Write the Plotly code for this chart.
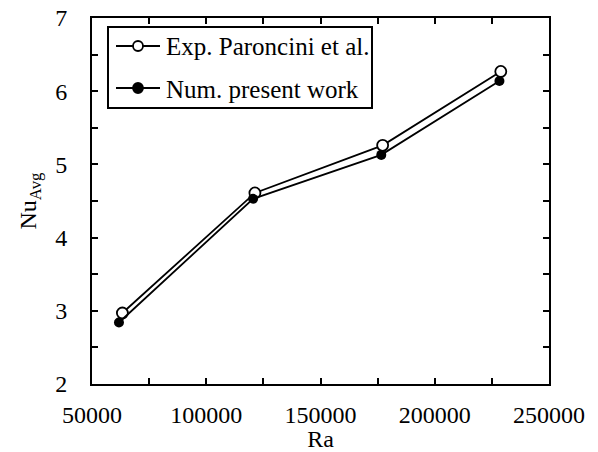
import plotly.graph_objects as go

ra_exp = [63300, 121300, 177200, 228900]
nu_exp = [2.97, 4.61, 5.26, 6.27]
ra_num = [61800, 120500, 176600, 228300]
nu_num = [2.84, 4.53, 5.13, 6.14]
names = ["Exp. Paroncini et al.", "Num. present work"]

FONT = "Liberation Serif"
fig = go.Figure()
fig.add_trace(go.Scatter(
    x=ra_exp, y=nu_exp, mode="lines+markers", name=names[0],
    line=dict(color="black", width=1.8),
    marker=dict(symbol="circle", size=11, color="white", line=dict(color="black", width=1.8)),
))
fig.add_trace(go.Scatter(
    x=ra_num, y=nu_num, mode="lines+markers", name=names[1],
    line=dict(color="black", width=1.8),
    marker=dict(symbol="circle", size=10, color="black"),
))

axis_common = dict(
    showline=True, linecolor="black", linewidth=2, mirror="ticks",
    ticks="inside", ticklen=6, tickwidth=1.8, tickcolor="black",
    showgrid=False, zeroline=False, automargin=False,
    tickfont=dict(family=FONT, size=24, color="black"),
)
fig.update_xaxes(
    range=[50000, 250000], dtick=50000, tick0=50000, tickformat="d",
    minor=dict(dtick=25000, ticks="inside", ticklen=6, tickwidth=1.8, tickcolor="black"),
    title=dict(text="Ra", font=dict(family=FONT, size=24, color="black"), standoff=0),
    ticklabelstandoff=8,
    **axis_common,
)
fig.update_yaxes(
    range=[2, 7], dtick=1, tick0=2,
    minor=dict(dtick=0.5, ticks="inside", ticklen=6, tickwidth=1.8, tickcolor="black"),
    title=dict(text="Nu<sub>Avg</sub>", font=dict(family=FONT, size=24, color="black"), standoff=12),
    ticklabelstandoff=18,
    **axis_common,
)

# custom legend (paper coordinates; plot area is 457 x 366 px)
PW, PH = 457.0, 366.0
def px(x):
    return (x - 92) / PW
def py(y):
    return (384 - y) / PH

shapes = [dict(type="rect", xref="paper", yref="paper",
               x0=px(108), x1=px(372), y0=py(108), y1=py(27),
               line=dict(color="black", width=2), fillcolor="white", layer="above")]
annotations = []
for i, (yy, nm) in enumerate(zip([46, 88], names)):
    shapes.append(dict(type="line", xref="paper", yref="paper",
                       x0=px(116), x1=px(160), y0=py(yy), y1=py(yy),
                       line=dict(color="black", width=1.8), layer="above"))
    shapes.append(dict(type="circle", xref="paper", yref="paper",
                       xsizemode="pixel", ysizemode="pixel",
                       xanchor=px(138), yanchor=py(yy),
                       x0=-5, x1=5, y0=-5, y1=5,
                       line=dict(color="black", width=1.8),
                       fillcolor="white" if i == 0 else "black", layer="above"))
    annotations.append(dict(text=nm, xref="paper", yref="paper",
                            x=px(164), y=py(yy + 1), xanchor="left", yanchor="middle",
                            showarrow=False,
                            font=dict(family=FONT, size=25, color="black")))

fig.update_layout(
    width=598, height=452,
    margin=dict(l=92, r=49, t=18, b=68),
    plot_bgcolor="white", paper_bgcolor="white",
    font=dict(family=FONT, size=24, color="black"),
    showlegend=False,
    shapes=shapes, annotations=annotations,
)
fig.write_html("out.html", config={"displayModeBar": False},
               post_script="document.body.style.margin='0';document.body.style.padding='0';")
